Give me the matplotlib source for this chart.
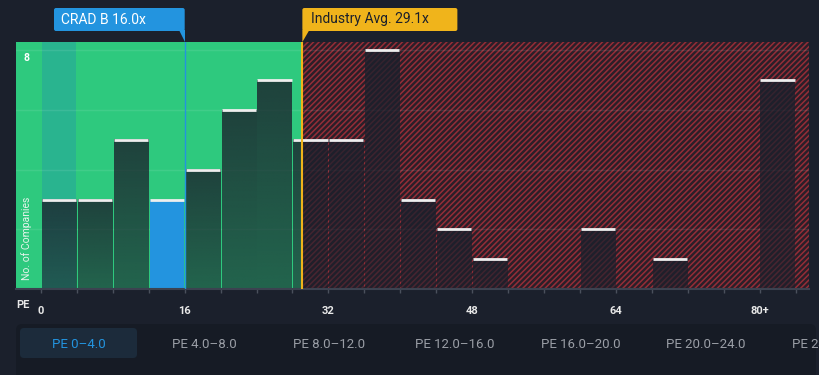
import numpy as np
import matplotlib
matplotlib.use("Agg")
import matplotlib.pyplot as plt
from matplotlib.patches import FancyBboxPatch, Polygon, Rectangle

plt.rcParams['font.family'] = ['Roboto', 'DejaVu Sans']
plt.rcParams['hatch.linewidth'] = 1.1

# PE histogram data (bin start, count); last bin is "80+"
bin_starts = [0, 4, 8, 12, 16, 20, 24, 28, 32, 36, 40, 44, 48, 52, 56, 60, 64, 68, 72, 76, 80]
counts = [3, 3, 5, 3, 4, 6, 7, 5, 5, 8, 3, 2, 1, 0, 0, 2, 0, 1, 0, 0, 7]
bin_width = 4
tick_vals = [0, 16, 32, 48, 64, 80]
tick_labels = ["0", "16", "32", "48", "64", "80+"]
company_pe = 16.0
company_name = "CRAD B"
industry_pe = 29.1
selected_bin = 0      # index of the highlighted bin
company_bin = 3       # index of the bin holding the company
buttons = ["PE 0\u20134.0", "PE 4.0\u20138.0", "PE 8.0\u201312.0", "PE 12.0\u201316.0",
           "PE 16.0\u201320.0", "PE 20.0\u201324.0", "PE 24.0\u201328.0"]

BG = "#1b202c"
GREEN = "#2ec97e"
BLUE = "#2394df"
YELLOW = "#f0b41b"

W, H = 820, 375
fig = plt.figure(figsize=(W / 100, H / 100), dpi=100, facecolor=BG)

# main plot area in pixel terms
L, R, T, B = 16, 809, 42, 289
ax = fig.add_axes([L / W, 1 - B / H, (R - L) / W, (B - T) / H])
ax.set_facecolor(BG)
xmin, xmax = -2.78, 85.5
ymin, ymax = 0, 8.28

# good / bad value zones
ax.axvspan(xmin, industry_pe, color=GREEN, lw=0, zorder=0)
ax.axvspan(industry_pe, xmax, facecolor="#2a1f29", edgecolor="#952d37",
           hatch="//////", lw=0, zorder=0)
# highlighted (selected) bin column
ax.axvspan(bin_starts[selected_bin] + 0.1, bin_starts[selected_bin] + bin_width - 0.1,
           color="#29b48f", lw=0, zorder=0.5)

# grid
for gy in [2, 4, 6, 8]:
    ax.axhline(gy, color="white", alpha=0.09, lw=1, zorder=1)

# bars with vertical gradient of a dark overlay
grad = np.zeros((50, 1, 4))
grad[..., :3] = matplotlib.colors.to_rgb(BG)
grad[:, 0, 3] = np.linspace(0.8, 0.6, 50)
for i, (xs, c) in enumerate(zip(bin_starts, counts)):
    if c == 0:
        continue
    x0, x1 = xs + 0.1, xs + bin_width - 0.1
    if i == company_bin:
        ax.add_patch(Rectangle((x0, 0), x1 - x0, c, color=BLUE, lw=0, zorder=2))
    else:
        ax.imshow(grad, extent=[x0, x1, 0, c], aspect="auto", origin="upper",
                  zorder=2, interpolation="bilinear")
    ax.plot([x0, x1], [c, c], color="#eeeeee", lw=2, solid_capstyle="butt", zorder=3)

# reference lines
ax.axvline(company_pe, color=BLUE, lw=1, zorder=4)
ax.axvline(industry_pe, color=YELLOW, lw=1.5, zorder=4)

ax.set_xlim(xmin, xmax)
ax.set_ylim(ymin, ymax)
for s in ["top", "right", "left"]:
    ax.spines[s].set_visible(False)
ax.spines["bottom"].set_color("#3c4250")
ax.spines["bottom"].set_linewidth(1.5)
ax.set_yticks([])
ax.set_xticks(np.arange(0, 88, 4), minor=True)
ax.set_xticks(tick_vals)
ax.set_xticklabels(tick_labels, fontsize=8, fontweight="bold", color="#e8e8e8")
ax.tick_params(axis="x", which="both", length=3, color="#4a505c", width=1, pad=9)

# overlay in pixel coordinates for labels, callouts and buttons
ov = fig.add_axes([0, 0, 1, 1], facecolor="none")
ov.set_xlim(0, W)
ov.set_ylim(H, 0)
ov.axis("off")


def px(v):
    return L + (v - xmin) / (xmax - xmin) * (R - L)


ov.text(27, 58, "8", color="white", fontsize=7.5, fontweight="bold", ha="center", va="center")
ov.text(27, 238, "No. of Companies", color="#e6f4ec", fontsize=7.5, rotation=90,
        ha="center", va="center")
ov.text(23, 305, "PE", color="#e8e8e8", fontsize=8, fontweight="bold", ha="center", va="center")

# company callout (tail on the right)
cx = px(company_pe)
ov.add_patch(FancyBboxPatch((54, 8), cx - 54, 23, boxstyle="round,pad=0,rounding_size=2",
                            color=BLUE, lw=0))
ov.add_patch(Polygon([(cx - 6, 30), (cx, 30), (cx, 42)], closed=True, color=BLUE, lw=0))
ov.text(61, 19.5, f"{company_name} {company_pe:.1f}x", color="white", fontsize=10,
        ha="left", va="center")

# industry callout (tail on the left)
ix = px(industry_pe)
ov.add_patch(FancyBboxPatch((ix, 8), 155, 23, boxstyle="round,pad=0,rounding_size=2",
                            color=YELLOW, lw=0))
ov.add_patch(Polygon([(ix, 30), (ix + 7, 30), (ix, 42)], closed=True, color=YELLOW, lw=0))
ov.text(ix + 9, 19.5, f"Industry Avg. {industry_pe:.1f}x", color="#1b202c", fontsize=10,
        ha="left", va="center")

# bin selector buttons, the panel clips the last one like the original strip
panel = FancyBboxPatch((16, 324), 800, 70, boxstyle="round,pad=0,rounding_size=6",
                       color="#161b25", lw=0)
ov.add_patch(panel)
ov.add_patch(FancyBboxPatch((20, 328), 117, 30, boxstyle="round,pad=0,rounding_size=4",
                            color="#1c2b3b", lw=0))
for i, lab in enumerate(buttons):
    t = ov.text(78.5 + i * 125.5, 344, lab, fontsize=9.5, ha="center", va="center",
                color=BLUE if i == selected_bin else "#9a9ea6")
    t.set_clip_path(panel)

fig.savefig("out.png", dpi=100, facecolor=BG)
